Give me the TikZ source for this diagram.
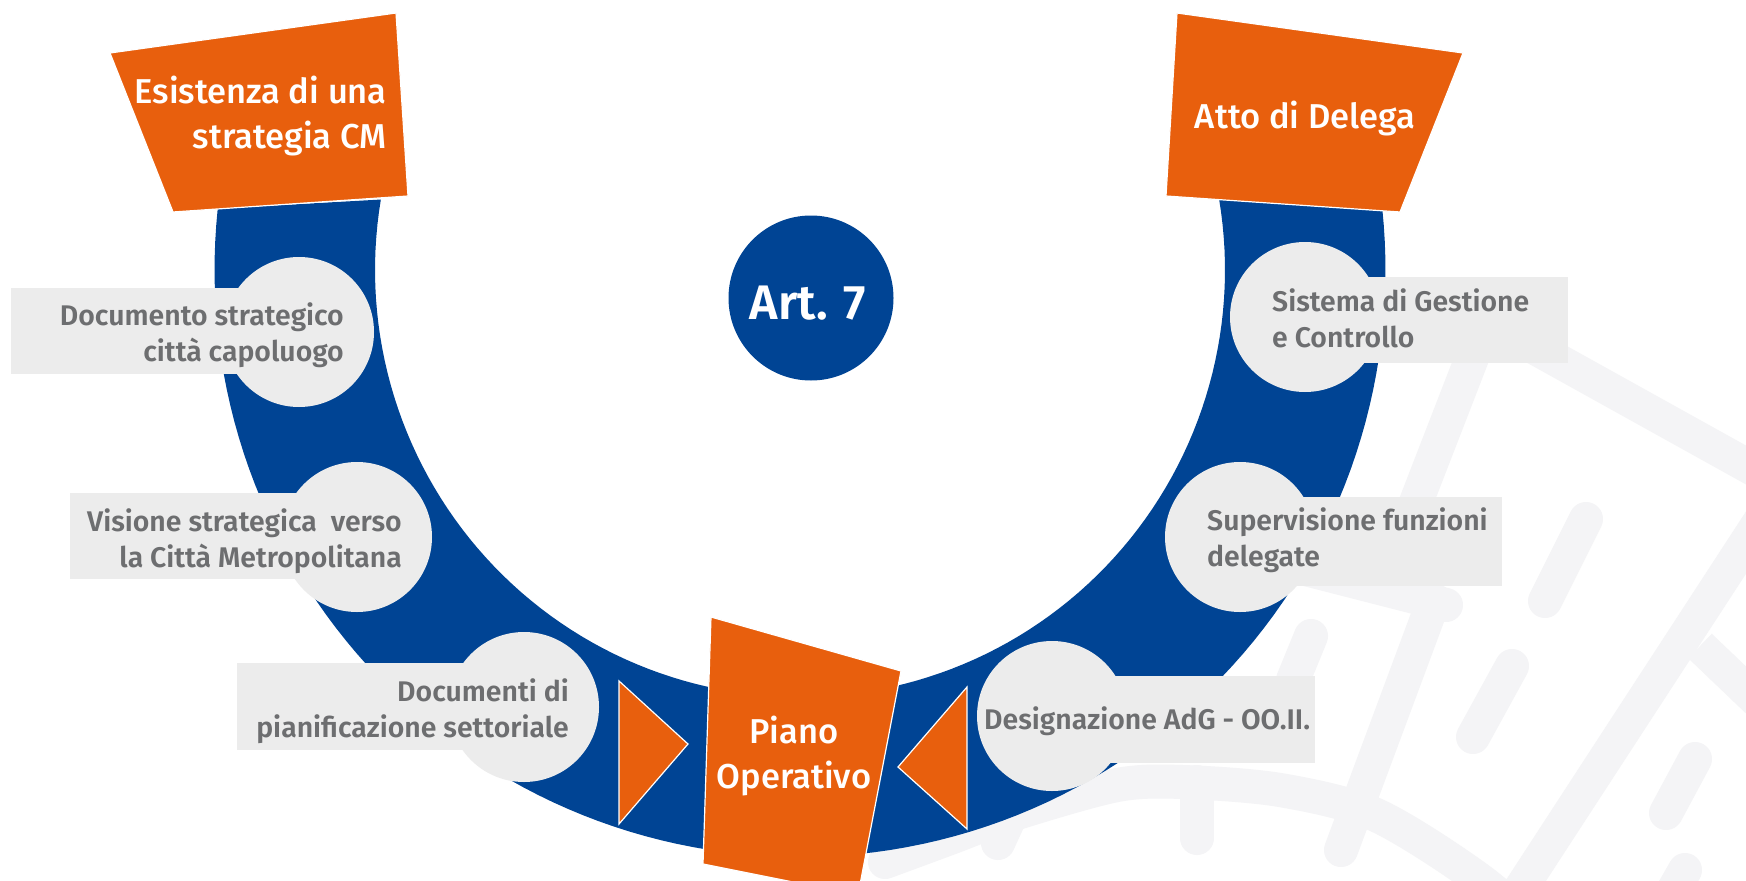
\documentclass[tikz,border=0pt]{standalone}
\usepackage{fontspec}
\setmainfont{Fira Sans}
\newfontfamily\midfont{Fira Sans Medium}
\newfontfamily\semifont{Fira Sans SemiBold}
\definecolor{ringblue}{HTML}{004494}
\definecolor{accent}{HTML}{E85F0D}
\definecolor{pale}{HTML}{ECECEC}
\definecolor{textgrey}{HTML}{6D6E70}
\definecolor{mark}{HTML}{F4F4F6}
\tikzset{
  wm/.style={draw=mark,line width=34pt,line cap=round},
  orangeshape/.style={fill=accent,draw=white,line width=1.2pt,line join=miter},
  disc/.style={circle,fill=pale,inner sep=0pt,minimum size=150pt},
  band/.style={fill=pale},
  greytext/.style={text=textgrey,font=\fontsize{28.4}{36}\selectfont\semifont,inner sep=0pt},
  whitetext/.style={text=white,font=\fontsize{34.5}{45}\selectfont\midfont,inner sep=0pt}
}
\begin{document}
\begin{tikzpicture}[x=1pt,y=-1pt]
\clip (0,0) rectangle (1746,881);
\fill[white] (0,0) rectangle (1746,881);
% watermark
\draw[wm,line cap=butt] (1475,350) -- (1413,510);
\draw[wm] (1290,565) -- (1446,605);
\draw[wm] (1434,600) -- (1341,850);
\draw[wm] plot[smooth] coordinates {(885,862) (950,838) (1017,813) (1117,785) (1183,782) (1280,790) (1376,815) (1480,880) (1560,950)};
\draw[wm] (1020,795) -- (998,843);
\draw[wm] (1197,782) -- (1197,838);
\draw[wm,line cap=butt] (1790,475) -- (1510,905);
\draw[wm,line cap=butt] (1530,345) -- (1800,495);
\draw[wm,line cap=butt] (1700,646) -- (1790,732);
\draw[wm] (1586,519) -- (1545,601);
\draw[wm] (1512,666) -- (1473,737);
\draw[wm] (1695,759) -- (1666,813);
\draw[wm] (1685,870) -- (1665,905);
\draw[wm] (1311,636) -- (1293,680);
% ring
\fill[ringblue] plot[domain=186:-6,samples=120] ({800+585.5*cos(\x)},{270+587*sin(\x)})
 -- plot[domain=-9.5:189.5,samples=120] ({800+425*cos(\x)},{270+427*sin(\x)}) -- cycle;
% bands
\fill[band] (11,288) rectangle (299,374);
\fill[band] (70,493) rectangle (357,579);
\fill[band] (237,663) rectangle (524,750);
\fill[band] (1305,277) rectangle (1568,363);
\fill[band] (1240,497) rectangle (1502,586);
\fill[band] (1052,676) rectangle (1315,763);
% discs
\node[disc] (d1) at (299,332) {};
\node[disc] (d2) at (357,537) {};
\node[disc] (d3) at (524,707) {};
\node[disc] (d4) at (1305,317) {};
\node[disc] (d5) at (1240,537) {};
\node[disc] (d6) at (1052,716) {};
% orange shapes
\draw[orangeshape] (110,53) -- (396,13) -- (408,196) -- (173,212) -- cycle;
\draw[orangeshape] (1177,13) -- (1463,53) -- (1400,212) -- (1166,196) -- cycle;
\draw[orangeshape] (711,617) -- (901,671) -- (858,895) -- (703,864) -- cycle;
\draw[orangeshape] (619,681) -- (688,744) -- (619,824) -- cycle;
\draw[orangeshape] (967,687) -- (898,767) -- (967,829) -- cycle;
\node[circle,fill=ringblue,inner sep=0pt,minimum size=165pt] (art) at (811,298) {};
% texts
\node[text=white,font=\fontsize{48.5}{50}\selectfont\semifont,inner sep=0pt] (artlabel) at (808,303) {Art. 7};
\node[whitetext,anchor=east,align=right] (t1) at (387,116) {Esistenza di una\\strategia CM};
\node[whitetext] (t2) at (1305,119) {Atto di Delega};
\node[whitetext,align=center] (t3) at (794,756) {Piano\\Operativo};
\node[greytext,anchor=east,align=right] (g1) at (344,335) {Documento strategico\\città capoluogo};
\node[greytext,anchor=east,align=right] (g2) at (402,541) {Visione strategica\ \ verso\\la Città Metropolitana};
\node[greytext,anchor=east,align=right] (g3) at (569,711) {Documenti di\\pianificazione settoriale};
\node[greytext,anchor=west,align=left] (g4) at (1272,318) {Sistema di Gestione\\e Controllo};
\node[greytext,anchor=west,align=left] (g5) at (1207,540) {Supervisione funzioni\\delegate};
\node[greytext,anchor=west] (g6) at (984,721) {Designazione AdG - OO.II.};
\end{tikzpicture}
\end{document}
